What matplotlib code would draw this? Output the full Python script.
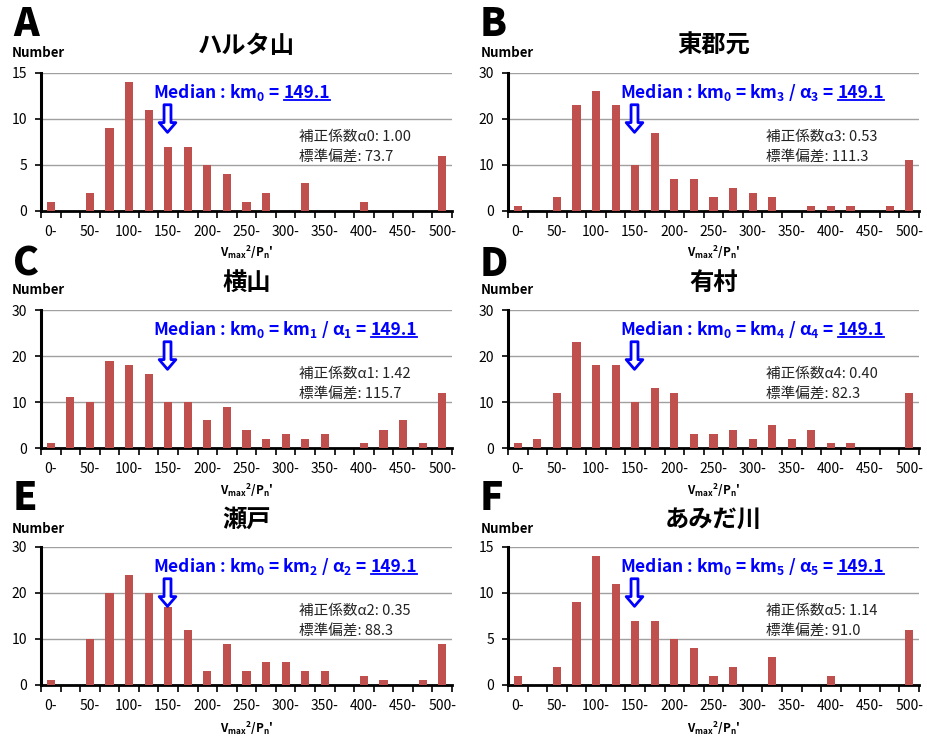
import numpy as np
import matplotlib.pyplot as plt

plt.rcParams['font.family'] = ['Noto Sans CJK JP', 'DejaVu Sans']
plt.rcParams['mathtext.fontset'] = 'custom'
plt.rcParams['mathtext.rm'] = 'Noto Sans CJK JP:bold'
plt.rcParams['mathtext.it'] = 'Noto Sans CJK JP:bold'
plt.rcParams['mathtext.bf'] = 'Noto Sans CJK JP:bold'
plt.rcParams['mathtext.default'] = 'bf'

# bins of Vmax^2/Pn' (lower edges)
bins = [0, 25, 50, 75, 100, 125, 150, 175, 200, 225, 250,
        275, 300, 325, 350, 375, 400, 425, 450, 475, 500]
tick_labels = ['0-', '50-', '100-', '150-', '200-', '250-',
               '300-', '350-', '400-', '450-', '500-']

letters = ['A', 'B', 'C', 'D', 'E', 'F']
sites = ['ハルタ山', '東郡元', '横山', '有村', '瀬戸', 'あみだ川']
alpha_idx = [0, 3, 1, 4, 2, 5]
alpha_vals = ['1.00', '0.53', '1.42', '0.40', '0.35', '1.14']
std_vals = ['73.7', '111.3', '115.7', '82.3', '88.3', '91.0']
ymax = [15, 30, 30, 30, 30, 15]
median = 149.1

counts_A = [1, 0, 2, 9, 14, 11, 7, 7, 5, 4, 1, 2, 0, 3, 0, 0, 1, 0, 0, 0, 6]
counts_B = [1, 0, 3, 23, 26, 23, 10, 17, 7, 7, 3, 5, 4, 3, 0, 1, 1, 1, 0, 1, 11]
counts_C = [1, 11, 10, 19, 18, 16, 10, 10, 6, 9, 4, 2, 3, 2, 3, 0, 1, 4, 6, 1, 12]
counts_D = [1, 2, 12, 23, 18, 18, 10, 13, 12, 3, 3, 4, 2, 5, 2, 4, 1, 1, 0, 0, 12]
counts_E = [1, 0, 10, 20, 24, 20, 17, 12, 3, 9, 3, 5, 5, 3, 3, 0, 2, 1, 0, 1, 9]
counts_F = [1, 0, 2, 9, 14, 11, 7, 7, 5, 4, 1, 2, 0, 3, 0, 0, 1, 0, 0, 0, 6]
all_counts = [counts_A, counts_B, counts_C, counts_D, counts_E, counts_F]

W, H = 927, 737
fig = plt.figure(figsize=(W / 100, H / 100), dpi=100)
renderer = fig.canvas.get_renderer()

col_left = [41, 508]
ax_w = 411
row_top = [73, 310, 547]
ax_h = 138
title_y = [46, 283, 520]
number_y = [53, 290, 529]
xlabel_y = [252, 490, 728]
letter_y = [24, 264, 498]
letter_x = [13, 480]
number_x = [12, 481]


def fx(x):
    return x / W


def fy(y):
    return 1 - y / H


x = np.arange(len(bins))
for i in range(6):
    r, c = i // 2, i % 2
    ax = fig.add_axes([fx(col_left[c]), fy(row_top[r] + ax_h), ax_w / W, ax_h / H])
    ax.bar(x, all_counts[i], width=0.42, color='#C0504D', zorder=3)
    ax.set_xlim(-0.5, len(bins) - 0.5)
    ax.set_ylim(0, ymax[i])
    ax.set_yticks(np.linspace(0, ymax[i], 4))
    ax.yaxis.grid(True, color='#A0A0A0', lw=1)
    ax.set_axisbelow(True)
    for s in ['top', 'right']:
        ax.spines[s].set_visible(False)
    ax.spines['left'].set_linewidth(2.2)
    ax.spines['bottom'].set_linewidth(2)
    ax.set_xticks(np.arange(-0.5, len(bins), 1))
    ax.set_xticklabels([])
    ax.set_xticks(x[::2], minor=True)
    ax.set_xticklabels(tick_labels, minor=True)
    ax.tick_params(axis='x', which='major', length=5, width=1.2, direction='out')
    ax.tick_params(axis='x', which='minor', length=0, pad=10, labelsize=10)
    ax.tick_params(axis='y', length=4, width=1.2, labelsize=10, pad=6)

    cx = col_left[c] + ax_w / 2
    fig.text(fx(letter_x[c]), fy(letter_y[r]), letters[i], fontsize=28,
             fontweight='heavy', ha='left', va='center')
    fig.text(fx(number_x[c]), fy(number_y[r]), 'Number', fontsize=9.5,
             fontweight='bold', ha='left', va='center')
    fig.text(fx(cx), fy(title_y[r]), sites[i], fontsize=17.5,
             fontweight='bold', ha='center', va='center')
    fig.text(fx(cx), fy(xlabel_y[r]), "V$_{max}$$^{2}$/P$_{n}$'", fontsize=8.5,
             fontweight='bold', ha='center', va='center')

    # median label with underlined value
    k = alpha_idx[i]
    if k == 0:
        s = 'Median : km$_{0}$ ='
    else:
        s = 'Median : km$_{0}$ = km$_{%d}$ / α$_{%d}$ =' % (k, k)
    t1 = ax.text(0.272, 0.82, s, transform=ax.transAxes, color='#0000FF',
                 fontsize=12.5, fontweight='bold', ha='left', va='baseline')
    bb = t1.get_window_extent(renderer)
    x1 = ax.transAxes.inverted().transform((bb.x1 + 4, bb.y0))[0]
    t2 = ax.text(x1, 0.82, '%.1f' % median, transform=ax.transAxes, color='#0000FF',
                 fontsize=12.5, fontweight='bold', ha='left', va='baseline')
    bb2 = t2.get_window_extent(renderer)
    base = ax.transAxes.transform((0, 0.82))[1]
    (ux0, uy), = ax.transAxes.inverted().transform([(bb2.x0, base - 2.5)])
    ux1 = ax.transAxes.inverted().transform((bb2.x1, base))[0]
    ax.plot([ux0, ux1], [uy, uy], color='#0000FF', lw=1.3,
            transform=ax.transAxes, clip_on=False)

    # hollow arrow at the median bin
    ax.annotate('', xy=(median / 25, 0.55), xytext=(median / 25, 0.79),
                xycoords=('data', 'axes fraction'), textcoords=('data', 'axes fraction'),
                arrowprops=dict(arrowstyle='simple,head_width=1.2,head_length=0.7,tail_width=0.5',
                                fc='white', ec='#0000FF', lw=2))

    ax.text(0.628, 0.535, '補正係数α%d: %s' % (k, alpha_vals[i]), transform=ax.transAxes,
            fontsize=10.5, color='#222222', ha='left', va='center')
    ax.text(0.628, 0.39, '標準偏差: %s' % std_vals[i], transform=ax.transAxes,
            fontsize=10.5, color='#222222', ha='left', va='center')

fig.savefig('out.png', dpi=100)
